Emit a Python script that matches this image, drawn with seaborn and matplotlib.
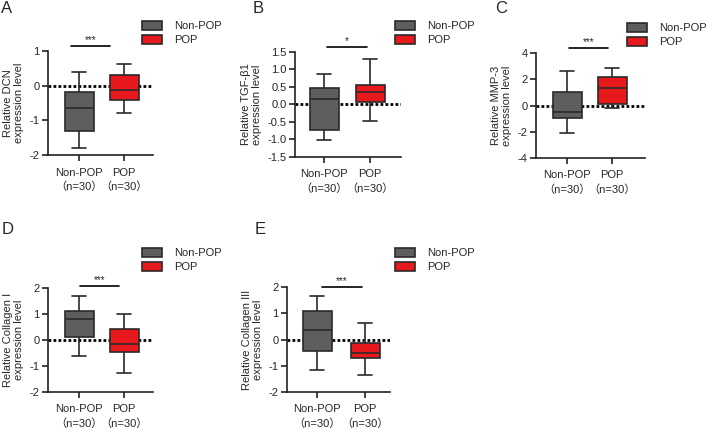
import numpy as np
import pandas as pd
import matplotlib
matplotlib.use("Agg")
import matplotlib.pyplot as plt
import seaborn as sns
from matplotlib.patches import Patch
from matplotlib.ticker import FormatStrFormatter
from matplotlib.transforms import blended_transform_factory

groups = ["Non-POP", "POP"]
group_colors = ["#5e5e5e", "#e8191c"]
tick_labels = ["Non-POP\n（n=30）", "POP\n（n=30）"]

# five-number summaries: min, Q1, median, Q3, max
dcn_non = [-1.79, -1.30, -0.63, -0.19, 0.39]
dcn_pop = [-0.80, -0.41, -0.12, 0.32, 0.62]
tgf_non = [-1.02, -0.72, 0.17, 0.48, 0.87]
tgf_pop = [-0.48, 0.07, 0.35, 0.55, 1.30]
mmp_non = [-2.12, -0.98, -0.47, 1.00, 2.66]
mmp_pop = [-0.20, 0.10, 1.31, 2.17, 2.84]
col1_non = [-0.62, 0.12, 0.82, 1.12, 1.70]
col1_pop = [-1.27, -0.47, -0.17, 0.43, 1.00]
col3_non = [-1.17, -0.42, 0.35, 1.07, 1.65]
col3_pop = [-1.35, -0.72, -0.50, -0.13, 0.62]

ylabels = ["Relative DCN\nexpression level",
           "Relative TGF-β1\nexpression level",
           "Relative MMP-3\nexpression level",
           "Relative Collagen I\nexpression level",
           "Relative Collagen III\nexpression level"]
yticks = [[-2, -1, 0, 1],
          [-1.5, -1.0, -0.5, 0.0, 0.5, 1.0, 1.5],
          [-4, -2, 0, 2, 4],
          [-2, -1, 0, 1, 2],
          [-2, -1, 0, 1, 2]]
stars = ["***", "*", "***", "***", "***"]
letters = ["A", "B", "C", "D", "E"]

sns.set_style("ticks")
plt.rcParams["font.family"] = ["Liberation Sans", "Noto Sans CJK SC"]
plt.rcParams["axes.unicode_minus"] = False
plt.rcParams["font.size"] = 8

W, H = 708, 429
fig = plt.figure(figsize=(W / 100, H / 100), dpi=100)

# layout in pixels: axes (left, top, right, bottom), category centres,
# legend anchor, letter position, significance bar span (data x) and height (axes y)
layout = [
    dict(box=(48, 51, 153, 155), cats=(79, 124), leg=(142, 21), let=(1, 1), bar=(-0.18, 0.69), bar_y=1.05),
    dict(box=(295, 52, 401, 157), cats=(324, 370), leg=(395, 21), let=(253, 1), bar=(0.07, 0.93), bar_y=1.05),
    dict(box=(536, 53, 645, 158), cats=(567, 612), leg=(627, 23), let=(495, 1), bar=(0.04, 0.91), bar_y=1.05),
    dict(box=(48, 288, 153, 392), cats=(79, 124), leg=(142, 248), let=(2, 222), bar=(0.02, 0.89), bar_y=1.02),
    dict(box=(287, 287, 390, 392), cats=(317, 365), leg=(395, 248), let=(255, 222), bar=(0.10, 0.94), bar_y=1.0),
]
data = [(dcn_non, dcn_pop), (tgf_non, tgf_pop), (mmp_non, mmp_pop),
        (col1_non, col1_pop), (col3_non, col3_pop)]

for i, (non, pop) in enumerate(data):
    lay = layout[i]
    l, t, r, b = lay["box"]
    c0, c1 = lay["cats"]
    unit = c1 - c0
    ax = fig.add_axes([l / W, 1 - b / H, (r - l) / W, (b - t) / H])

    df = pd.DataFrame({"group": np.repeat(groups, len(non)), "value": non + pop})
    ax.axhline(0, color="black", lw=2, ls=(0, (1, 0.8)), zorder=0.9)
    sns.boxplot(data=df, x="group", y="value", hue="group", palette=group_colors,
                saturation=1, whis=(0, 100), width=29 / unit, linecolor="#2a2a2a",
                linewidth=1.2, legend=False, ax=ax)

    ax.set_xlim((l - c0) / unit, (r - c0) / unit)
    ax.set_ylim(yticks[i][0], yticks[i][-1])
    ax.set_yticks(yticks[i])
    if i == 1:
        ax.yaxis.set_major_formatter(FormatStrFormatter("%.1f"))
    ax.set_xticks([0, 1])
    ax.set_xticklabels(tick_labels, fontsize=8, linespacing=1.45)
    ax.set_xlabel("")
    ax.set_ylabel(ylabels[i], fontsize=8, labelpad=4, linespacing=1.1)
    sns.despine(ax=ax)
    for sp in ["left", "bottom"]:
        ax.spines[sp].set_linewidth(1.2)
        ax.spines[sp].set_color("#222222")
    ax.tick_params(length=4, width=1.2, color="#222222", labelsize=8)
    ax.tick_params(axis="x", pad=5)
    ax.tick_params(axis="y", pad=2)

    handles = [Patch(facecolor=c, edgecolor="#2a2a2a", linewidth=1.2, label=g)
               for g, c in zip(groups, group_colors)]
    ax.legend(handles=handles, loc="upper left",
              bbox_to_anchor=(lay["leg"][0] / W, 1 - lay["leg"][1] / H),
              bbox_transform=fig.transFigure, frameon=False,
              borderpad=0, borderaxespad=0, handlelength=1.8, handleheight=0.9,
              handletextpad=1.1, labelspacing=0.3, fontsize=8)

    trans = blended_transform_factory(ax.transData, ax.transAxes)
    x0, x1 = lay["bar"]
    ax.plot([x0, x1], [lay["bar_y"]] * 2, transform=trans, color="black", lw=1.2, clip_on=False)
    ax.text((x0 + x1) / 2, lay["bar_y"] + 0.01, stars[i], transform=trans,
            ha="center", va="bottom", fontsize=7)

    fig.text(lay["let"][0] / W, 1 - lay["let"][1] / H, letters[i], fontsize=12,
             ha="left", va="top")

fig.savefig("out.png", dpi=100)
